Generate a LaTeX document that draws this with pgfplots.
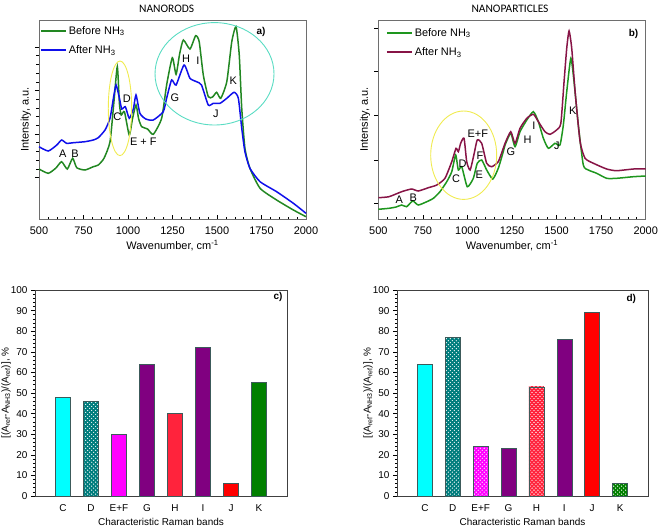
\documentclass[border=0pt]{standalone}
\usepackage{fontspec}
\setmainfont{Liberation Sans}
\newfontfamily\titlefont{Carlito}
\usepackage{pgfplots}
\pgfplotsset{compat=1.18}
\usetikzlibrary{patterns}

\pgfdeclarepatternformonly{xhatch}{\pgfqpoint{-1pt}{-1pt}}{\pgfqpoint{5pt}{5pt}}{\pgfqpoint{4pt}{4pt}}{%
  \pgfsetlinewidth{1.55pt}%
  \pgfpathmoveto{\pgfqpoint{-0.5pt}{-0.5pt}}\pgfpathlineto{\pgfqpoint{4.5pt}{4.5pt}}%
  \pgfpathmoveto{\pgfqpoint{-0.5pt}{4.5pt}}\pgfpathlineto{\pgfqpoint{4.5pt}{-0.5pt}}%
  \pgfusepath{stroke}}

\definecolor{grnA}{RGB}{34,135,34}
\definecolor{bluA}{RGB}{15,15,235}
\definecolor{grnB}{RGB}{30,150,30}
\definecolor{wine}{RGB}{135,20,70}
\definecolor{axgray}{RGB}{110,110,110}
\definecolor{ellcyan}{RGB}{90,220,195}
\definecolor{ellyel}{RGB}{240,235,80}
\definecolor{edge}{RGB}{60,90,90}
\definecolor{cyanb}{RGB}{0,255,255}
\definecolor{tealb}{RGB}{0,125,125}
\definecolor{magb}{RGB}{255,0,255}
\definecolor{purpb}{RGB}{128,0,128}
\definecolor{redH}{RGB}{255,35,60}
\definecolor{redJ}{RGB}{255,0,0}
\definecolor{grnK}{RGB}{0,128,0}

\pgfplotsset{
  spec/.style={
    scale only axis, width=267bp, height=199bp,
    xmin=500, xmax=2000, ymin=0, ymax=199,
    xtick={500,750,...,2000}, minor x tick num=4,
    yticklabels={}, minor y tick num=4,
    xtick pos=bottom, ytick pos=left,
    xtick align=inside, ytick align=outside,
    axis line style={axgray, line width=0.8bp},
    tick style={black, line width=0.6bp},
    major tick length=4bp, minor tick length=2.5bp,
    xlabel={Wavenumber, cm\textsuperscript{-1}},
    ylabel={Intensity, a.u.},
    tick label style={font=\fontsize{11}{12}\selectfont},
    xticklabel style={anchor=base, yshift=-15bp},
    label style={font=\fontsize{11}{13}\selectfont},
    xlabel style={at={(axis description cs:0.5,0)}, anchor=base, yshift=-30bp},
    ylabel style={at={(axis description cs:-0.03,0.5)}, anchor=south, inner sep=0pt},
    /pgf/number format/assume math mode=true,
    /pgf/number format/1000 sep={},
    clip=false,
    legend cell align=left,
    legend style={at={(axis description cs:0,0.985)}, anchor=north west, draw=none, fill=none,
      inner sep=1bp, row sep=6bp, font=\fontsize{11}{12}\selectfont},
    legend image code/.code={\draw[##1, line width=1.6bp] (0bp,0bp) -- (25bp,0bp);},
    every axis plot/.append style={line width=1.5bp, smooth, tension=0.35},
  },
  bars/.style={
    scale only axis, width=252bp, height=206bp,
    xmin=-1, xmax=8, ymin=0, ymax=100,
    ytick={0,10,...,100}, minor y tick num=4,
    xtick={0,...,7}, xticklabels={C,D,E+F,G,H,I,J,K},
    extra x ticks={8}, extra x tick labels={},
    extra x tick style={major tick length=5bp},
    major x tick style={draw=none},
    xtick pos=bottom, ytick pos=left, tick align=outside,
    axis line style={black!75, line width=0.8bp},
    tick style={black, line width=0.6bp},
    major tick length=4bp, minor tick length=2bp,
    tick label style={font=\fontsize{10}{11}\selectfont},
    xticklabel style={anchor=base, yshift=-11bp},
    xlabel={Characteristic Raman bands},
    ylabel={[(A\textsubscript{ref}-A\textsubscript{NH3})/(A\textsubscript{ref})], \%},
    label style={font=\fontsize{10}{12}\selectfont},
    xlabel style={at={(axis description cs:0.5,0)}, anchor=base, yshift=-29.5bp},
    ylabel style={at={(axis description cs:-0.115,0.5)}, anchor=center},
    /pgf/number format/assume math mode=true,
    clip=false,
  },
  bar/.style={ybar, bar width=15bp, bar shift=0pt, draw=edge, line width=0.6bp},
  hatch/.style={pattern=xhatch, pattern color=#1},
}

\begin{document}
\begin{tikzpicture}
\path[use as bounding box] (0,0) rectangle (658bp,-528bp);

% ---------------- a) NANORODS
\begin{axis}[spec, at={(39bp,-219bp)}, anchor=south west,
  ytick={41.5,85,128.5,172}]
\addplot[grnA] coordinates {
(500,50)(552,45.7)(595,51)(627,57.3)(659,50)(689,60.7)(712,51.3)(758,49)(805,52.3)(833,54)
(865,60.7)(899,77.3)(921,117.3)(940,152.3)(952,115)(962,104)(980,107.3)(1007,84)(1025,100)
(1045,114)(1060,100)(1077,92.3)(1110,90)(1142,84.7)(1189,100.7)(1217,134)(1249,161.3)
(1270,144.7)(1290,165)(1311,179)(1348,170)(1380,183.3)(1400,177.3)(1423,144)(1451,122.3)
(1475,122)(1498,126.7)(1521,120.7)(1555,137.3)(1583,177.3)(1607,192.3)(1625,164)(1639,110.7)
(1657,70.7)(1685,50.7)(1742,30.7)(1835,19)(1929,9)(2000,2.3)};
\addlegendentry{Before NH\textsubscript{3}}
\addplot[bluA] coordinates {
(500,72.3)(552,68)(600,74)(627,79)(655,75.7)(693,76.3)(758,77.3)(805,79)(833,81.3)(871,89)
(899,100.7)(918,120.7)(933,134)(952,120.7)(965,110)(985,112.3)(1007,100.7)(1030,110)
(1045,124)(1067,105.7)(1100,100)(1142,99)(1198,107.3)(1217,120.7)(1245,139)(1270,134)
(1315,154)(1348,140.7)(1385,137.3)(1413,134)(1451,114)(1479,115.7)(1517,115.7)(1555,120.7)
(1596,126.7)(1620,120.7)(1639,90.7)(1657,67.3)(1685,50.7)(1742,37.3)(1835,27.3)(1929,15.7)(2000,5.7)};
\addlegendentry{After NH\textsubscript{3}}
\draw[ellyel, line width=0.9bp] (axis cs:955,110.7) ellipse [x radius=11.7bp, y radius=47.3bp];
\draw[ellcyan, line width=0.9bp] (axis cs:1486,145.2) ellipse [x radius=59.5bp, y radius=51.2bp];
\node[font=\titlefont\fontsize{11.5}{13}\selectfont] at (axis description cs:0.478,1.058) {NANORODS};
\begin{scope}[every node/.style={font=\fontsize{11}{12}\selectfont, inner sep=0pt}]
\node at (axis cs:633,65.7) {A};
\node at (axis cs:702,65.7) {B};
\node at (axis cs:940,102.3) {C};
\node at (axis cs:993,120.7) {D};
\node at (axis cs:1086,77.3) {E + F};
\node at (axis cs:1264,121.7) {G};
\node at (axis cs:1326,160.7) {H};
\node at (axis cs:1392,158) {I};
\node at (axis cs:1494,105.7) {J};
\node at (axis cs:1592,138.3) {K};
\node[font=\bfseries\fontsize{10}{11}\selectfont] at (axis cs:1747,186.7) {a)};
\end{scope}
\end{axis}

% ---------------- b) NANOPARTICLES
\begin{axis}[spec, at={(378.3bp,-219bp)}, anchor=south west, width=267.4bp,
  ytick={15.7,59,104,147.3,190.7},
  legend style={at={(axis description cs:0.025,0.975)}}]
\addplot[grnB] coordinates {
(500,9.7)(560,10.7)(600,12)(631,14)(659,12.3)(693,18)(724,14)(772,17.3)(809,20.7)(846,27.3)
(884,37.3)(912,47.3)(934,64)(949,49)(968,52.3)(999,32.3)(1033,40.7)(1055,55.7)(1080,59)
(1108,49)(1142,40)(1173,50.7)(1201,67.3)(1211,74)(1243,85.7)(1267,72.3)(1295,87.3)(1333,99)
(1370,107.3)(1398,97.3)(1426,80.7)(1454,70.7)(1491,75.7)(1519,74)(1538,94)(1557,127.3)
(1580,160.7)(1598,137.3)(1622,94)(1650,54)(1678,49)(1725,45.7)(1781,40.7)(1837,40.7)(1931,42.3)(2000,43)};
\addlegendentry{Before NH\textsubscript{3}}
\addplot[wine] coordinates {
(500,21.3)(560,22.3)(631,27.3)(687,30)(724,28)(781,31.3)(828,34)(874,40.7)(912,57.3)(936,70.7)
(949,67.3)(962,75.7)(981,80.7)(996,57.3)(1015,49)(1036,64)(1055,79)(1080,75.7)(1108,55.7)
(1136,52.3)(1173,57.3)(1201,70.7)(1211,75.7)(1243,87.3)(1267,75.7)(1295,90.7)(1333,100.7)
(1370,104.7)(1398,97.3)(1435,87.3)(1463,84.7)(1500,89)(1524,95.7)(1542,137.3)(1557,170.7)
(1570,188)(1585,170.7)(1604,127.3)(1632,77.3)(1660,60.7)(1707,55.7)(1781,50)(1837,48.3)(1931,50)(2000,50)};
\addlegendentry{After NH\textsubscript{3}}
\draw[ellyel, line width=0.9bp] (axis cs:979,63.8) ellipse [x radius=33bp, y radius=44.2bp];
\node[font=\titlefont\fontsize{11.5}{13}\selectfont] at (axis description cs:0.4925,1.058) {NANOPARTICLES};
\begin{scope}[every node/.style={font=\fontsize{11}{12}\selectfont, inner sep=0pt}]
\node at (axis cs:618,19.7) {A};
\node at (axis cs:696,21.7) {B};
\node at (axis cs:936,40.7) {C};
\node at (axis cs:973,55.7) {D};
\node at (axis cs:1058,85.7) {E+F};
\node at (axis cs:1071,63) {F};
\node at (axis cs:1067,44) {E};
\node at (axis cs:1244,67.3) {G};
\node at (axis cs:1338,79.7) {H};
\node at (axis cs:1373,93) {I};
\node at (axis cs:1501,73.3) {J};
\node at (axis cs:1591,108.3) {K};
\node[font=\bfseries\fontsize{10}{11}\selectfont] at (axis cs:1932,185) {b)};
\end{scope}
\end{axis}

% ---------------- c)
\begin{axis}[bars, at={(35bp,-496bp)}, anchor=south west]
\addplot[bar, fill=cyanb] coordinates {(0,48)};
\addplot[bar, hatch=tealb] coordinates {(1,46)};
\addplot[bar, fill=magb] coordinates {(2,30)};
\addplot[bar, fill=purpb] coordinates {(3,64)};
\addplot[bar, fill=redH] coordinates {(4,40)};
\addplot[bar, fill=purpb] coordinates {(5,72)};
\addplot[bar, fill=redJ] coordinates {(6,6)};
\addplot[bar, fill=grnK] coordinates {(7,55)};
\node[font=\bfseries\fontsize{10}{11}\selectfont] at (axis cs:7.68,96.8) {c)};
\end{axis}

% ---------------- d)
\begin{axis}[bars, at={(397bp,-496bp)}, anchor=south west, width=251bp]
\addplot[bar, fill=cyanb] coordinates {(0,64)};
\addplot[bar, hatch=tealb] coordinates {(1,77)};
\addplot[bar, hatch=magb] coordinates {(2,24)};
\addplot[bar, fill=purpb] coordinates {(3,23)};
\addplot[bar, hatch=redH] coordinates {(4,53)};
\addplot[bar, fill=purpb] coordinates {(5,76)};
\addplot[bar, fill=redJ] coordinates {(6,89)};
\addplot[bar, hatch=grnK] coordinates {(7,6)};
\node[font=\bfseries\fontsize{10}{11}\selectfont] at (axis cs:7.4,95.6) {d)};
\end{axis}
\end{tikzpicture}
\end{document}
